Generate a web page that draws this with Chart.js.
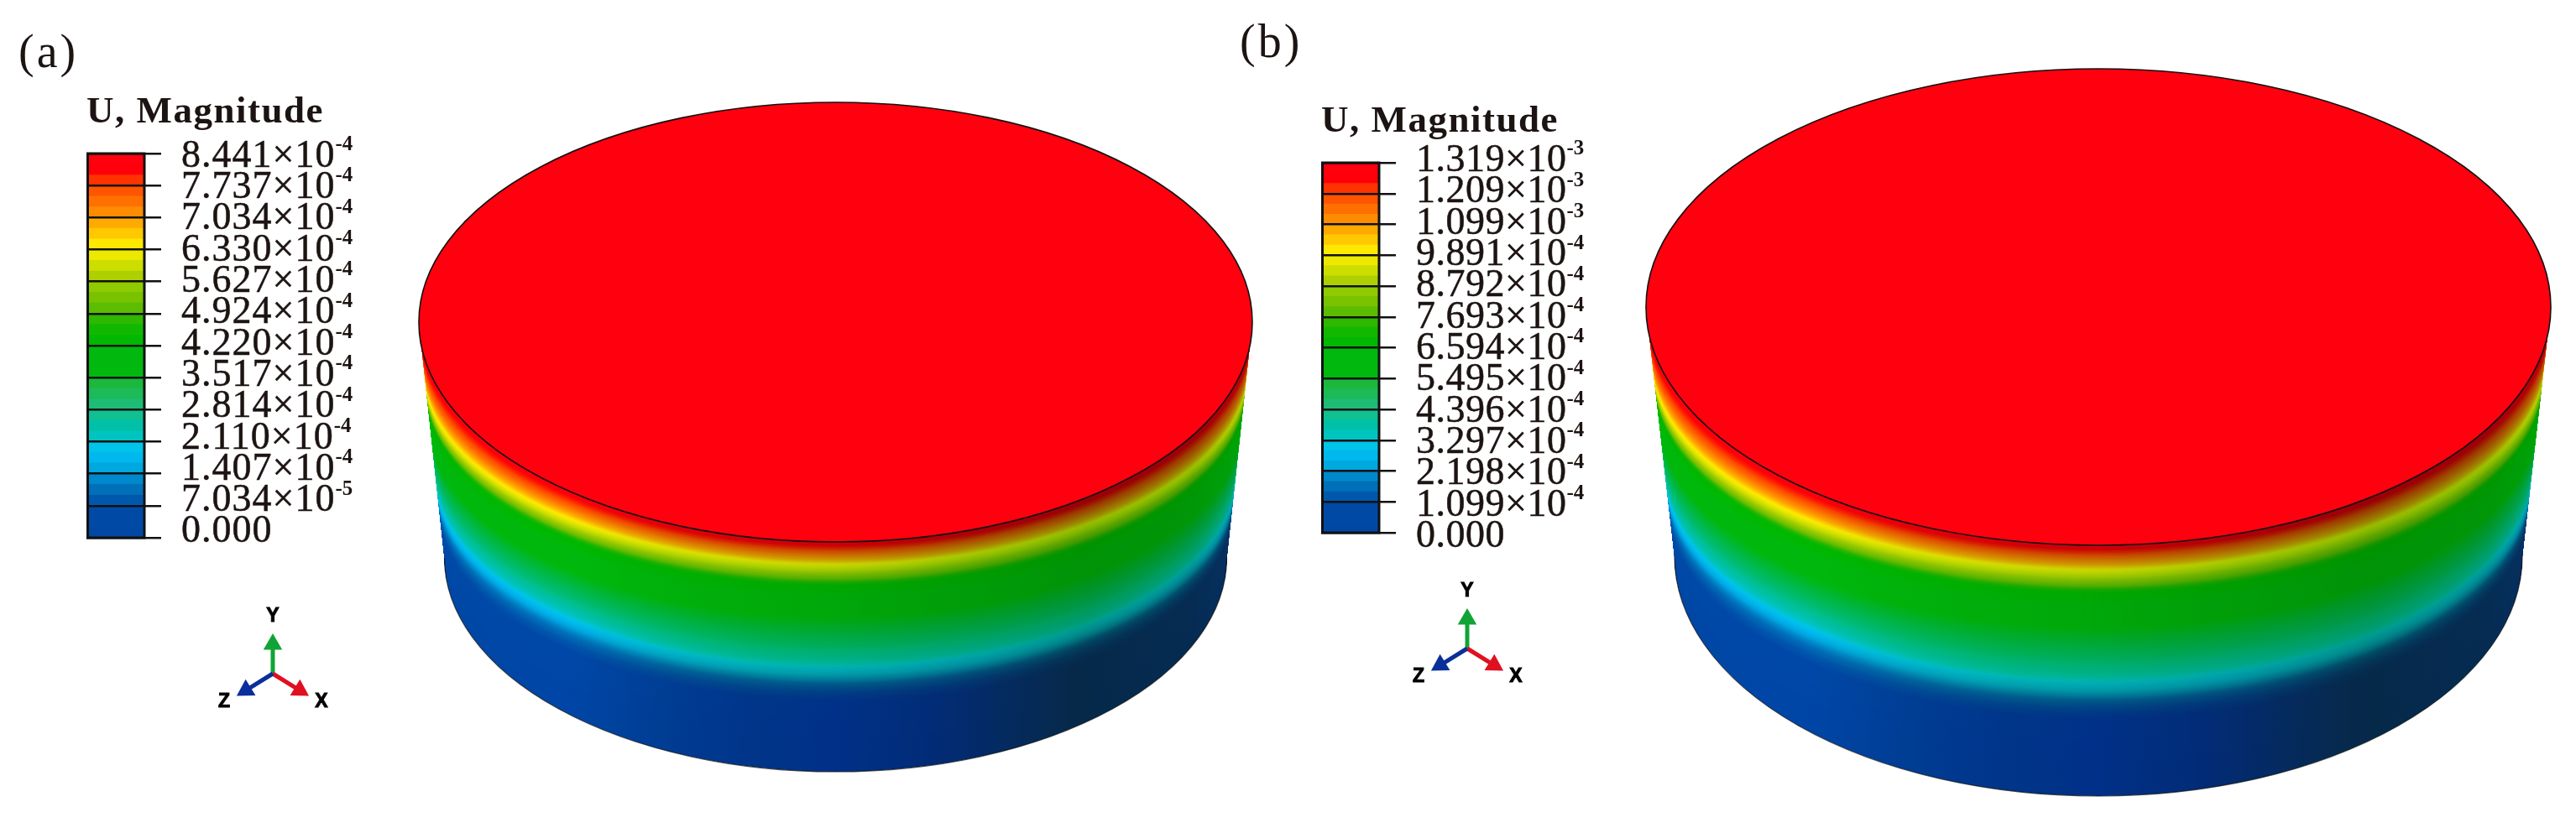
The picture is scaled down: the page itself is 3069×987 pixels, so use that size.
<!DOCTYPE html>
<html lang="en">
<head>
  <meta charset="UTF-8" />
  <title>U, Magnitude</title>
  <script src="https://cdn.jsdelivr.net/npm/chart.js"></script>
  <style>
    body { margin: 0; background: #ffffff; overflow: hidden; }
    canvas { position: absolute; }
    .panel-tag {
      position: absolute;
      font-family: 'Liberation Serif', serif;
      font-size: 56px;
      line-height: 56px;
      letter-spacing: 3px;
      color: #1c1412;
    }
  </style>
</head>
<body>
  <div class="panel-tag" style="left:22px; top:33px;">(a)</div>
  <div class="panel-tag" style="left:1477px; top:21px;">(b)</div>
  <canvas id="barA" width="340" height="574" style="left:103px; top:107px;"></canvas>
  <canvas id="barB" width="340" height="557" style="left:1574px; top:118px;"></canvas>
  <canvas id="discA" width="1080" height="987" style="left:450px; top:0;"></canvas>
  <canvas id="discB" width="1169" height="987" style="left:1900px; top:0;"></canvas>
  <canvas id="triadA" width="160" height="160" style="left:245px; top:723px;"></canvas>
  <canvas id="triadB" width="160" height="160" style="left:1668px; top:693px;"></canvas>

  <script>
    // contour levels, top to bottom
    const levelsA = [8.441e-4, 7.737e-4, 7.034e-4, 6.330e-4, 5.627e-4, 4.924e-4, 4.220e-4, 3.517e-4, 2.814e-4, 2.110e-4, 1.407e-4, 7.034e-5, 0];
    const mantissasA = ['8.441', '7.737', '7.034', '6.330', '5.627', '4.924', '4.220', '3.517', '2.814', '2.110', '1.407', '7.034', '0.000'];
    const exponentsA = ['-4', '-4', '-4', '-4', '-4', '-4', '-4', '-4', '-4', '-4', '-4', '-5', ''];

    const levelsB = [1.319e-3, 1.209e-3, 1.099e-3, 9.891e-4, 8.792e-4, 7.693e-4, 6.594e-4, 5.495e-4, 4.396e-4, 3.297e-4, 2.198e-4, 1.099e-4, 0];
    const mantissasB = ['1.319', '1.209', '1.099', '9.891', '8.792', '7.693', '6.594', '5.495', '4.396', '3.297', '2.198', '1.099', '0.000'];
    const exponentsB = ['-3', '-3', '-3', '-4', '-4', '-4', '-4', '-4', '-4', '-4', '-4', '-4', ''];

    // three stripes per legend band, top to bottom
    const stripeColors = [
      '#ff000f', '#ff000a', '#ff3300',
      '#ff5500', '#ff7000', '#ff8c00',
      '#ffaa00', '#ffc800', '#ffe800',
      '#ece800', '#ccde00', '#aed000',
      '#90ca00', '#78c200', '#5cbc00',
      '#2eb800', '#12b800', '#00b800',
      '#00b80e', '#00b80e', '#00b80e',
      '#1cb83c', '#1cba58', '#1cbc74',
      '#10c090', '#00c0a8', '#00c4c0',
      '#00c4e8', '#00b8ee', '#00a8e0',
      '#0088cc', '#0070b8', '#0058ac',
      '#004aa6', '#004aa6', '#0048a4'
    ];

    // side wall: distance down from the rim (0-1) and U as a share of the maximum
    const wallDepth = [0, 0.03, 0.05, 0.08, 0.105, 0.13, 0.16, 0.19, 0.31, 0.38, 0.45, 0.525, 0.56, 0.62, 0.69, 0.78, 0.89, 1];
    const wallU = [1, 0.95, 0.9, 0.83, 0.75, 0.7, 0.62, 0.52, 0.44, 0.4, 0.34, 0.257, 0.2, 0.114, 0.057, 0.02, 0, 0];

    // how round the contour rings are at each depth, against the rim and foot ellipses
    const ringDepth = [0, 0.05, 0.1, 0.7, 0.85, 1];
    const ringRoundness = [1, 0.92, 0.88, 0.88, 0.92, 1];

    // triad arrow ends, in axis lengths
    const triadNames = ['Z', 'X', 'Y'];
    const triadEndX = [-0.68, 0.68, 0];
    const triadEndY = [-0.42, -0.42, 0.745];
    const triadTurn = [-121.6, 121.6, 0];
    const triadColors = ['#0a2f9a', '#e01020', '#10a436'];
    const triadLabelX = [-1.23, 1.23, 0];
    const triadLabelY = [-0.72, -0.72, 1.45];

    const serif = "'Liberation Serif', serif";
    const inkColor = '#1c1412';

    const rgbOf = hex => [1, 3, 5].map(i => parseInt(hex.substr(i, 2), 16));

    function colorForU(u) {
      const pos = (1 - u) * (stripeColors.length - 1);
      const i = Math.min(Math.floor(pos), stripeColors.length - 2);
      const a = rgbOf(stripeColors[i]);
      const b = rgbOf(stripeColors[i + 1]);
      const f = pos - i;
      const c = a.map((v, k) => Math.round(v + (b[k] - v) * f));
      // the wall carries no red in its green and teal zone
      if (u < 0.5) c[0] = 0;
      return c;
    }

    function roundnessAt(d) {
      let i = 0;
      while (i < ringDepth.length - 2 && d > ringDepth[i + 1]) i++;
      const f = (d - ringDepth[i]) / (ringDepth[i + 1] - ringDepth[i]);
      return ringRoundness[i] + (ringRoundness[i + 1] - ringRoundness[i]) * f;
    }

    function makeContourBar(id, levels, mantissas, exponents, labelShiftTop, labelShiftBottom, spacing) {
      const perBand = stripeColors.length / (levels.length - 1);
      // each stripe runs down to zero; dataset 0 is painted last, so the lowest stripe comes first
      const datasets = stripeColors.map((color, s) => {
        const band = Math.floor(s / perBand);
        const step = (levels[band] - levels[band + 1]) / perBand;
        return {
          data: [[0, levels[band] - step * (s % perBand)]],
          backgroundColor: color,
          barPercentage: 1,
          categoryPercentage: 1
        };
      }).reverse();

      const legendText = {
        id: 'legendText',
        beforeDraw(chart) {
          chart.ctx.letterSpacing = '1.5px';
        },
        afterDraw(chart) {
          const { ctx, chartArea, scales } = chart;
          ctx.save();
          ctx.strokeStyle = '#111111';
          ctx.lineWidth = 3;
          ctx.strokeRect(chartArea.left + 1.5, chartArea.top, chartArea.width - 1.5, chartArea.height);
          ctx.fillStyle = inkColor;
          ctx.strokeStyle = inkColor;
          ctx.lineWidth = 0.5;
          ctx.textAlign = 'left';
          ctx.textBaseline = 'middle';
          levels.forEach((v, i) => {
            const shift = labelShiftTop + (labelShiftBottom - labelShiftTop) * i / (levels.length - 1);
            const y = scales.y.getPixelForValue(v) + shift;
            const x = chartArea.right + 44;
            ctx.letterSpacing = spacing;
            ctx.font = `46px ${serif}`;
            const main = exponents[i] ? `${mantissas[i]}×10` : mantissas[i];
            ctx.fillText(main, x, y);
            ctx.strokeText(main, x, y);
            if (exponents[i]) {
              const w = ctx.measureText(main).width;
              ctx.letterSpacing = '0px';
              ctx.font = `bold 25px ${serif}`;
              ctx.fillText(exponents[i], x + w, y - 14);
            }
          });
          ctx.restore();
        }
      };

      return new Chart(document.getElementById(id), {
        type: 'bar',
        data: { labels: ['U'], datasets },
        plugins: [legendText],
        options: {
          responsive: false,
          animation: false,
          devicePixelRatio: 1,
          layout: { padding: { bottom: 40 } },
          plugins: {
            legend: { display: false },
            tooltip: { enabled: false },
            title: {
              display: true,
              text: 'U, Magnitude',
              align: 'start',
              color: inkColor,
              font: { family: serif, size: 45, weight: 'bold' },
              padding: { top: 0, bottom: 22 }
            }
          },
          scales: {
            x: { display: false, stacked: true },
            y: {
              position: 'right',
              min: 0,
              max: levels[0],
              afterBuildTicks: scale => { scale.ticks = levels.map(value => ({ value })); },
              afterFit: scale => { scale.width = 340 - 69; },
              ticks: { display: false },
              border: { display: false },
              grid: { color: '#111111', lineWidth: 2.5, tickLength: 20, z: 1 }
            }
          }
        }
      });
    }

    function makeDisc(id, canvasLeft, g) {
      const canvas = document.getElementById(id);
      const perHeight = g.bottomCy - g.topCy;
      const sidePoints = wallDepth.map((d, i) => ({ x: 0, y: 1 - d, u: wallU[i] }));

      const paintDisc = {
        id: 'paintDisc',
        beforeDatasetsDraw(chart) {
          const { ctx, scales } = chart;
          const cx = scales.x.getPixelForValue(0);
          const widthAt = h => scales.x.getPixelForValue(g.bottomRx / g.topRx + (1 - g.bottomRx / g.topRx) * h) - cx;
          const tallAt = h => (g.bottomRy + (g.topRy - g.bottomRy) * h) / perHeight;
          const pxOf = v => scales.y.getPixelForValue(v);
          const top = { rx: widthAt(1), cy: pxOf(1), ry: pxOf(1 - tallAt(1)) - pxOf(1) };
          const bottom = { rx: widthAt(0), cy: pxOf(0), ry: pxOf(-tallAt(0)) - pxOf(0) };
          const lowest = { top: top.cy + top.ry, bottom: bottom.cy + bottom.ry };

          // contour ring at a station: lowest point follows the depth, flatter than the rim
          const ringAt = h => {
            const d = 1 - h;
            const low = lowest.top + (lowest.bottom - lowest.top) * d;
            const ry = (pxOf(h - tallAt(h)) - pxOf(h)) * roundnessAt(d);
            const cy = low - ry;
            const edge = Math.min(1, (cy - top.cy) / (bottom.cy - top.cy));
            return { rx: top.rx + (bottom.rx - top.rx) * edge, cy, ry };
          };
          const traceRing = r => {
            ctx.beginPath();
            ctx.ellipse(cx, r.cy, r.rx, r.ry, 0, 0, Math.PI * 2);
          };

          // deep blue zone turns navy away from the light: [position, r, g, b, strength]
          const navyStops = [
            [0, 0, 45, 190, 0],
            [0.2, 0, 45, 190, 0.1],
            [0.35, 0, 45, 190, 0.5],
            [0.5, 0, 45, 190, 0.7],
            [0.62, 4, 45, 165, 0.8],
            [0.78, 10, 50, 120, 0.95],
            [1, 10, 50, 120, 0.8]
          ];
          const wallFill = u => {
            const base = colorForU(u);
            if (u >= 0.14) return `rgb(${base.join(',')})`;
            const depth = Math.min(1, (0.14 - u) / 0.09);
            const fill = ctx.createLinearGradient(cx - top.rx, 0, cx + top.rx, 0);
            navyStops.forEach(([pos, r, gr, b, a]) => {
              const m = a * depth;
              const c = [r, gr, b].map((v, k) => Math.round(base[k] + (v - base[k]) * m));
              fill.addColorStop(pos, `rgb(${c.join(',')})`);
            });
            return fill;
          };

          ctx.save();
          // wall outline, used to keep the lighting on the side only
          ctx.beginPath();
          ctx.moveTo(cx - top.rx, top.cy);
          ctx.lineTo(cx - bottom.rx, bottom.cy);
          ctx.ellipse(cx, bottom.cy, bottom.rx, bottom.ry, 0, Math.PI, 0, true);
          ctx.lineTo(cx + top.rx, top.cy);
          ctx.closePath();
          ctx.clip();

          // rings from the foot up, each covering the one before
          for (let i = sidePoints.length - 2; i >= 0; i--) {
            const p = sidePoints[i];
            const q = sidePoints[i + 1];
            const steps = Math.max(2, Math.ceil((p.y - q.y) * perHeight));
            for (let s = steps; s >= 0; s--) {
              const f = s / steps;
              const h = p.y + (q.y - p.y) * f;
              traceRing(ringAt(h));
              ctx.fillStyle = wallFill(p.u + (q.u - p.u) * f);
              ctx.fill();
            }
          }

          // light falls from the left
          const light = ctx.createLinearGradient(cx - top.rx, 0, cx + top.rx, 0);
          light.addColorStop(0, 'rgb(255,255,255)');
          light.addColorStop(0.18, 'rgb(255,255,255)');
          light.addColorStop(0.3, 'rgb(225,245,215)');
          light.addColorStop(0.4, 'rgb(212,238,195)');
          light.addColorStop(0.5, 'rgb(204,232,190)');
          light.addColorStop(0.65, 'rgb(173,218,180)');
          light.addColorStop(0.8, 'rgb(153,204,153)');
          light.addColorStop(0.93, 'rgb(158,209,166)');
          light.addColorStop(1, 'rgb(191,230,204)');
          ctx.globalCompositeOperation = 'multiply';
          ctx.fillStyle = light;
          ctx.fillRect(0, 0, chart.width, chart.height);
          ctx.restore();

          // foot edge
          ctx.strokeStyle = 'rgba(10,10,10,0.7)';
          ctx.lineWidth = 1.2;
          ctx.beginPath();
          ctx.ellipse(cx, bottom.cy, bottom.rx, bottom.ry, 0, Math.PI, 0, true);
          ctx.stroke();

          // top face
          traceRing(top);
          ctx.fillStyle = '#ff000f';
          ctx.fill();
          ctx.strokeStyle = '#111111';
          ctx.lineWidth = 1.6;
          ctx.stroke();
        }
      };

      return new Chart(canvas, {
        type: 'scatter',
        data: { datasets: [{ data: sidePoints, pointRadius: 0, showLine: false }] },
        plugins: [paintDisc],
        options: {
          responsive: false,
          animation: false,
          devicePixelRatio: 1,
          layout: { autoPadding: false },
          plugins: { legend: { display: false }, tooltip: { enabled: false } },
          scales: {
            x: { display: false, min: (canvasLeft - g.cx) / g.topRx, max: (canvasLeft + canvas.width - g.cx) / g.topRx },
            y: { display: false, min: 1 - (canvas.height - g.topCy) / perHeight, max: 1 + g.topCy / perHeight }
          }
        }
      });
    }

    function makeTriad(id) {
      const axisLabels = {
        id: 'axisLabels',
        afterDraw(chart) {
          const { ctx, scales } = chart;
          ctx.save();
          ctx.fillStyle = '#000000';
          ctx.strokeStyle = '#000000';
          ctx.lineWidth = 1;
          ctx.font = "bold 23px 'Liberation Sans', sans-serif";
          ctx.textAlign = 'center';
          ctx.textBaseline = 'middle';
          triadNames.forEach((name, i) => {
            const x = scales.x.getPixelForValue(triadLabelX[i]);
            const y = scales.y.getPixelForValue(triadLabelY[i]);
            ctx.fillText(name, x, y);
            ctx.strokeText(name, x, y);
          });
          ctx.restore();
        }
      };
      return new Chart(document.getElementById(id), {
        type: 'scatter',
        data: {
          datasets: triadNames.map((name, i) => ({
            label: name,
            data: [{ x: 0, y: 0 }, { x: triadEndX[i], y: triadEndY[i] }],
            showLine: true,
            borderColor: triadColors[i],
            backgroundColor: triadColors[i],
            borderWidth: 5,
            pointStyle: 'triangle',
            pointRadius: [0, 13],
            pointBorderWidth: 0,
            rotation: triadTurn[i]
          }))
        },
        plugins: [axisLabels],
        options: {
          responsive: false,
          animation: false,
          devicePixelRatio: 1,
          layout: { autoPadding: false },
          plugins: { legend: { display: false }, tooltip: { enabled: false } },
          scales: {
            x: { display: false, min: -1.7, max: 1.7 },
            y: { display: false, min: -1.7, max: 1.7 }
          }
        }
      });
    }

    makeContourBar('barA', levelsA, mantissasA, exponentsA, 3.6, -6.6, '1px');
    makeContourBar('barB', levelsB, mantissasB, exponentsB, -2, 5, '0.5px');
    makeDisc('discA', 450, { cx: 995.5, topCy: 384, topRx: 496.5, topRy: 262, bottomCy: 665, bottomRx: 466, bottomRy: 255 });
    makeDisc('discB', 1900, { cx: 2500, topCy: 366, topRx: 539, topRy: 284, bottomCy: 663, bottomRx: 505, bottomRy: 286 });
    makeTriad('triadA');
    makeTriad('triadB');
  </script>
</body>
</html>
